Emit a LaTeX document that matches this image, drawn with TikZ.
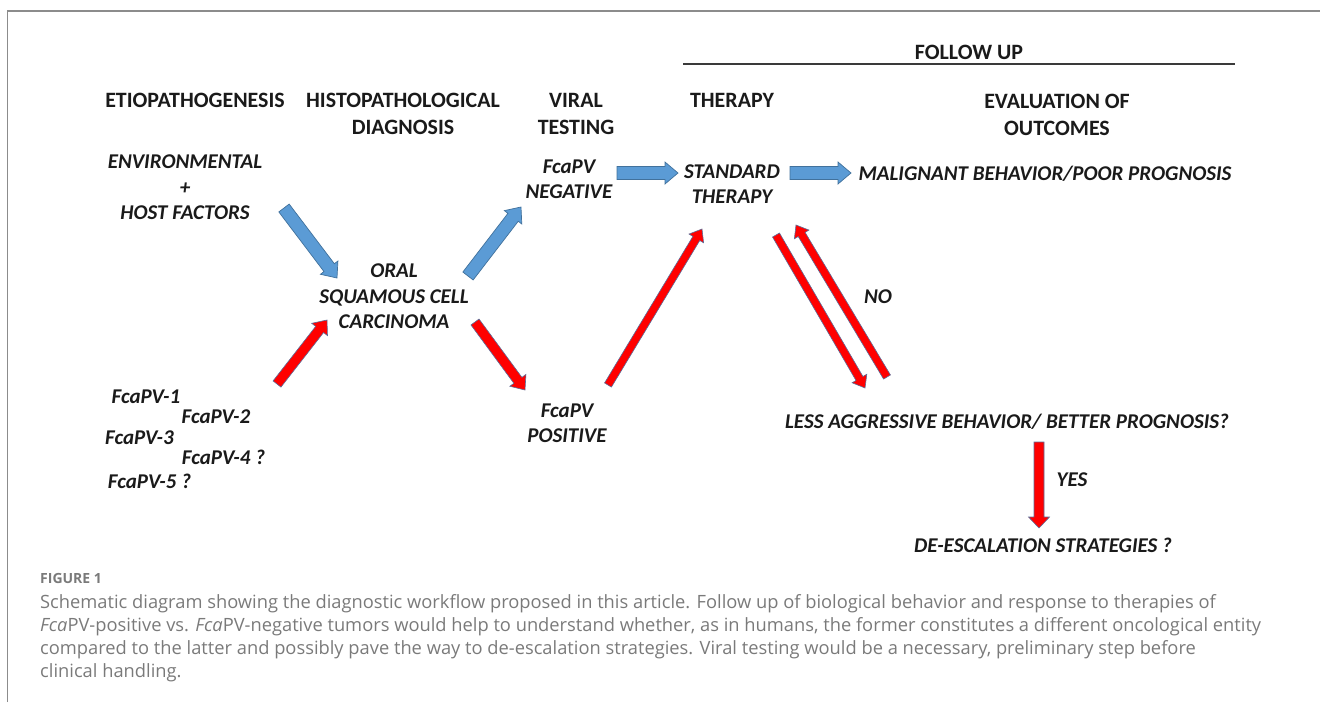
\documentclass[tikz,border=0pt]{standalone}
\usepackage{fontspec}
\setmainfont{Carlito}
\newfontfamily\capfont{Open Sans}
\usetikzlibrary{calc}
\definecolor{blueA}{HTML}{5B9BD5}
\definecolor{blueB}{HTML}{41719C}
\definecolor{redA}{HTML}{FF0000}
\definecolor{redB}{HTML}{5A6E9A}
\definecolor{frameC}{HTML}{8C8C8C}
\definecolor{capC}{HTML}{7A7A7A}
\definecolor{lineC}{HTML}{3A3A3A}
\definecolor{txtC}{HTML}{1A1A1A}
\tikzset{
  hdr/.style={font=\fontsize{21.9}{27}\selectfont\bfseries, text=txtC, align=center, inner sep=0pt, text height=14pt, text depth=0pt},
  lbl/.style={font=\fontsize{21}{25.5}\selectfont\bfseries\itshape, text=txtC, align=center, inner sep=0pt, text height=13.5pt, text depth=0pt},
  bluearrow/.style={fill=blueA, draw=blueB, line width=0.7pt, line join=miter},
  redarrow/.style={fill=redA, draw=redB, line width=0.6pt, line join=miter},
  captxt/.style={font=\capfont\fontsize{18.3}{23}\selectfont, text=capC, anchor=base west, inner sep=0pt},
}
% #1 style, #2 tail, #3 tip, #4 shaft half width, #5 head half width, #6 head length
\newcommand\blockarrow[6]{%
  \coordinate (#2-#3-h) at ($(#3)!#6!(#2)$);
  \draw[#1] ($(#2)!#4!90:(#3)$) -- ($(#2-#3-h)!#4!90:(#3)$) -- ($(#2-#3-h)!#5!90:(#3)$) -- (#3)
    -- ($(#2-#3-h)!#5!-90:(#3)$) -- ($(#2-#3-h)!#4!-90:(#3)$) -- ($(#2)!#4!-90:(#3)$) -- cycle;}
\begin{document}
\begin{tikzpicture}[x=1pt, y=-1pt]
\useasboundingbox (0,0) rectangle (1320,702);
% frame
\draw[frameC, line width=1.5pt] (7.5,702) -- (7.5,11) -- (1320,11);
% headers (multi-line nodes are placed at the centre of their last line)
\node[hdr] (h1) at (195,100) {ETIOPATHOGENESIS};
\node[hdr] (h2) at (403,127) {HISTOPATHOLOGICAL\\DIAGNOSIS};
\node[hdr] (h3) at (576,127) {VIRAL\\TESTING};
\node[hdr] (h4) at (732,100) {THERAPY};
\node[hdr] (h5) at (1057,128) {EVALUATION OF\\OUTCOMES};
\node[hdr] (h6) at (969,52) {FOLLOW UP};
\draw[lineC, line width=2pt] (683,64) -- (1235,64);
% labels
\node[lbl] (env) at (185,213) {ENVIRONMENTAL\\+\\HOST FACTORS};
\node[lbl] (oscc) at (394,322) {ORAL\\SQUAMOUS CELL\\CARCINOMA};
\node[lbl] (neg) at (569,192) {FcaPV\\NEGATIVE};
\node[lbl] (pos) at (567,436) {FcaPV\\POSITIVE};
\node[lbl] (std) at (732,197) {STANDARD\\THERAPY};
\node[lbl] (mal) at (1045,174) {MALIGNANT BEHAVIOR/POOR PROGNOSIS};
\node[lbl] (less) at (1007,422) {LESS AGGRESSIVE BEHAVIOR/ BETTER PROGNOSIS?};
\node[lbl] (desc) at (1043,546) {DE-ESCALATION STRATEGIES ?};
\node[lbl] (no) at (878,297) {NO};
\node[lbl] (yes) at (1072,480) {YES};
\node[lbl] (v1) at (146,397) {FcaPV-1};
\node[lbl] (v2) at (216,417) {FcaPV-2};
\node[lbl] (v3) at (139.5,438) {FcaPV-3};
\node[lbl] (v4) at (223.5,458) {FcaPV-4 ?};
\node[lbl] (v5) at (149.5,482) {FcaPV-5 ?};
% arrow end points
\coordinate (b1t) at (284,208); \coordinate (b1h) at (337,278);
\coordinate (b2t) at (468,276); \coordinate (b2h) at (521,207);
\coordinate (b3t) at (617,173); \coordinate (b3h) at (678,173);
\coordinate (b4t) at (790,173); \coordinate (b4h) at (851,173);
\coordinate (r1t) at (277,384); \coordinate (r1h) at (327,320);
\coordinate (r2t) at (475,322); \coordinate (r2h) at (525,390);
\coordinate (r3t) at (608,385); \coordinate (r3h) at (702,229);
\coordinate (r4t) at (776,235); \coordinate (r4h) at (865,388);
\coordinate (r5t) at (887,377); \coordinate (r5h) at (796,225);
\coordinate (r6t) at (1039,442); \coordinate (r6h) at (1039,528);
% blue arrows
\blockarrow{bluearrow}{b1t}{b1h}{6.5pt}{11pt}{13pt}
\blockarrow{bluearrow}{b2t}{b2h}{6.5pt}{11pt}{13pt}
\blockarrow{bluearrow}{b3t}{b3h}{6.5pt}{11pt}{13pt}
\blockarrow{bluearrow}{b4t}{b4h}{6.5pt}{11pt}{13pt}
% red arrows
\blockarrow{redarrow}{r1t}{r1h}{5pt}{10pt}{12pt}
\blockarrow{redarrow}{r2t}{r2h}{5pt}{10pt}{12pt}
\blockarrow{redarrow}{r3t}{r3h}{4pt}{8.5pt}{11pt}
\blockarrow{redarrow}{r4t}{r4h}{4pt}{8.5pt}{11pt}
\blockarrow{redarrow}{r5t}{r5h}{4pt}{8.5pt}{11pt}
\blockarrow{redarrow}{r6t}{r6h}{5pt}{10.5pt}{11pt}
% caption
\node[captxt, font=\capfont\bfseries\fontsize{14}{17}\selectfont] (fig) at (40,583) {FIGURE 1};
\node[captxt] (c1) at (40,608) {Schematic diagram showing the diagnostic workflow proposed in this article. Follow up of biological behavior and response to therapies of};
\node[captxt] (c2) at (40,631) {\textit{Fca}PV-positive vs. \textit{Fca}PV-negative tumors would help to understand whether, as in humans, the former constitutes a different oncological entity};
\node[captxt] (c3) at (40,654) {compared to the latter and possibly pave the way to de-escalation strategies. Viral testing would be a necessary, preliminary step before};
\node[captxt] (c4) at (40,677) {clinical handling.};
\end{tikzpicture}
\end{document}
